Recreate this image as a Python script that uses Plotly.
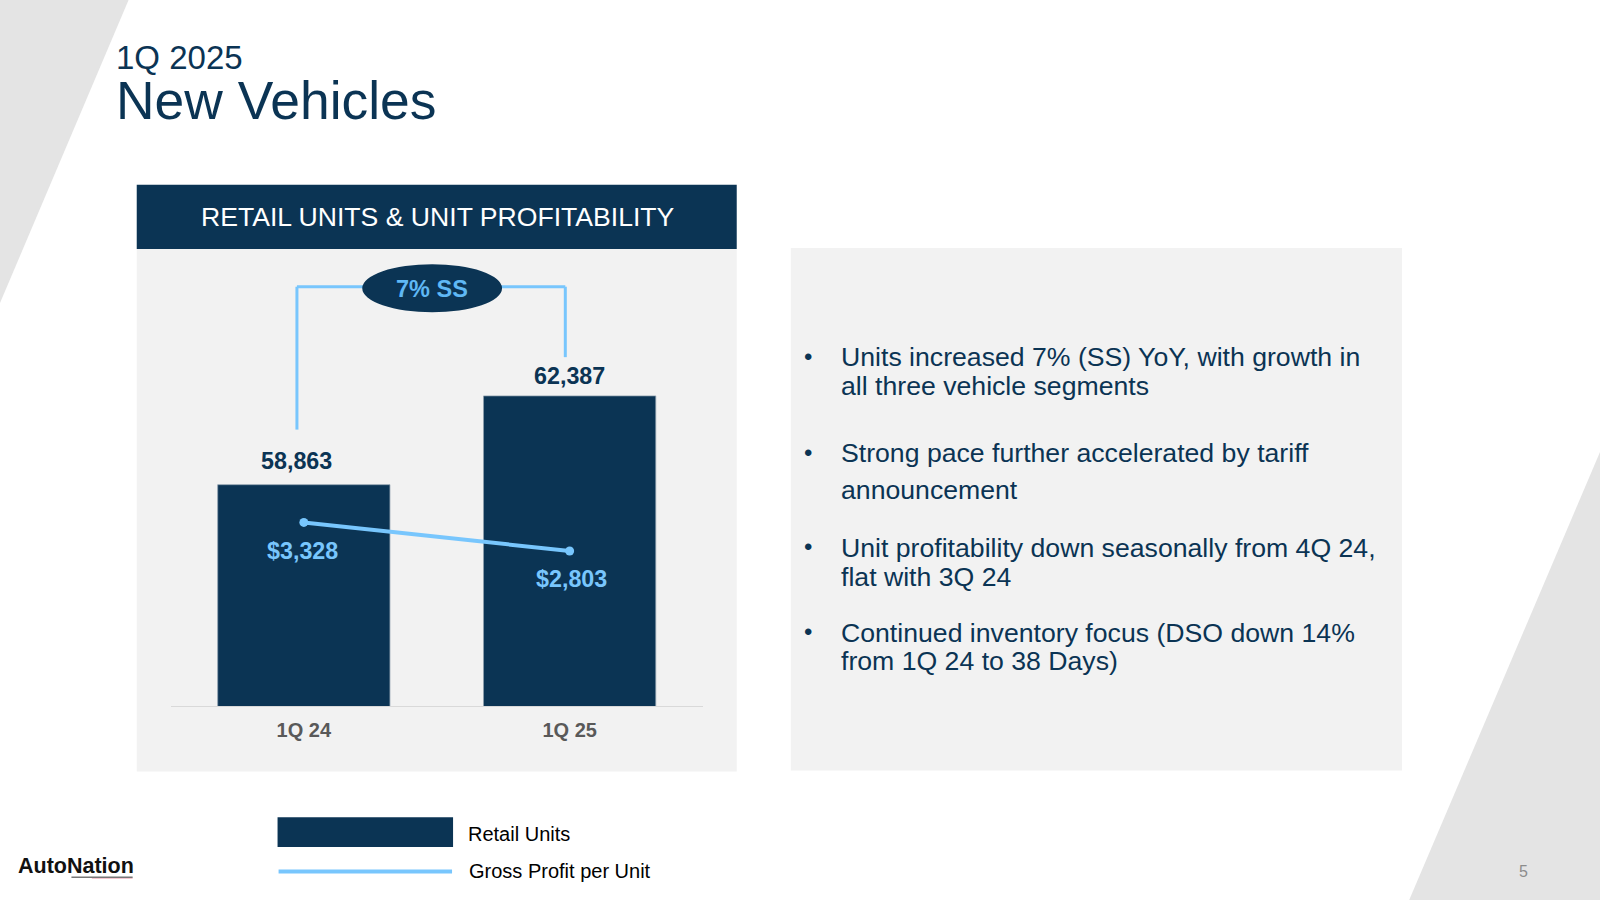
import plotly.graph_objects as go

# Data
quarters = ["1Q 24", "1Q 25"]
retail_units = [58863, 62387]
gross_profit = [3328, 2803]
bullets = [
    "Units increased 7% (SS) YoY, with growth in",
    "all three vehicle segments",
    "Strong pace further accelerated by tariff",
    "announcement",
    "Unit profitability down seasonally from 4Q 24,",
    "flat with 3Q 24",
    "Continued inventory focus (DSO down 14%",
    "from 1Q 24 to 38 Days)",
]
bullet_y = [350, 378, 444, 480, 537, 565, 620, 648]
bullet_starts = [0, 2, 4, 6]

NAVY = "#0b3454"
BLUE = "#78c6fd"
FONT = "Liberation Sans"


# Slide positions were measured on a 1568x882 view of the picture
def px(x):
    return x / 1568


def py(y):
    return 1 - y / 882


def box(x0, y0, x1, y1, color, kind="rect"):
    return dict(type=kind, xref="paper", yref="paper", x0=px(x0), x1=px(x1), y0=py(y0), y1=py(y1),
                fillcolor=color, line_width=0, layer="below")


def seg(x0, y0, x1, y1, width=3):
    return dict(type="line", xref="paper", yref="paper", x0=px(x0), x1=px(x1), y0=py(y0), y1=py(y1),
                line=dict(color=BLUE, width=width), layer="below")


def label(x, y, text, size, color=NAVY, bold=False, anchor="left"):
    return dict(xref="paper", yref="paper", x=px(x), y=py(y), text=text, showarrow=False,
                xanchor=anchor, yanchor="middle", borderpad=0, align=anchor,
                font=dict(family=FONT, size=size, color=color, weight=700 if bold else 400))


fig = go.Figure()

# Bars
fig.add_trace(go.Bar(
    x=quarters,
    y=retail_units,
    name="Retail Units",
    marker=dict(color=NAVY, line=dict(color="#8fa0af", width=0.75)),
    width=0.648,
))

# Line on its own axis
fig.add_trace(go.Scatter(
    x=quarters,
    y=gross_profit,
    name="Gross Profit per Unit",
    mode="lines+markers",
    line=dict(color=BLUE, width=4),
    marker=dict(color=BLUE, size=9),
    yaxis="y2",
))

shapes = [
    # Background wedges
    dict(type="path", xref="paper", yref="paper", layer="below", fillcolor="#e4e4e4", line_width=0,
         path=f"M 0 1 L {px(126)} 1 L 0 {py(297)} Z"),
    dict(type="path", xref="paper", yref="paper", layer="below", fillcolor="#e4e4e4", line_width=0,
         path=f"M {px(1381)} 0 L 1 {py(443)} L 1 0 Z"),
    # Panels
    box(134, 244, 722, 756, "#f2f2f2"),
    box(134, 181, 722, 244, NAVY),
    box(775, 243, 1374, 755, "#f2f2f2"),
    # Growth bracket
    seg(291, 281, 291, 421),
    seg(291, 281, 360, 281),
    seg(488, 281, 554, 281),
    seg(554, 281, 554, 350),
    box(355, 259, 492, 306, NAVY, "circle"),
    # Legend keys
    box(272, 801, 444, 830, NAVY),
    seg(273, 854, 443, 854, 4),
    # Logo underline
    box(70, 859, 130, 860.5, "#777777"),
    box(90, 860.5, 130, 861.5, "#f4c6d0"),
]

annotations = [
    # Both title lines in one block, the line gap follows the base font
    label(113, 82.5, '<span style="font-size:33px">1Q 2025</span><br>'
                     '<span style="font-size:53.4px">New Vehicles</span>', 38.2),
    label(429, 213, "RETAIL UNITS &amp; UNIT PROFITABILITY", 26.6, "#ffffff", anchor="center"),
    label(423, 283, "7% SS", 23.5, "#5fb8f5", True, "center"),
    label(457.5, 817, "Retail Units", 20, "#000000"),
    label(458.5, 854, "Gross Profit per Unit", 20, "#000000"),
    label(1493, 854, "5", 16, "#8c8c8c", anchor="center"),
    label(17, 848.5, "AutoNation", 21.5, "#111111", True),
]

for line, y in zip(bullets, bullet_y):
    annotations.append(label(823, y, line, 26.65))
for i in bullet_starts:
    annotations.append(label(787, bullet_y[i] - 1, "•", 24))

# Value labels hang off the data
unit_shift = [(-7.1, 23.5), (-0.5, 19.4)]
for q, v, (dx, dy) in zip(quarters, retail_units, unit_shift):
    annotations.append(dict(x=q, y=v, xref="x", yref="y", text=f"{v:,}", showarrow=False,
                            xshift=dx, yshift=dy, yanchor="middle", borderpad=0,
                            font=dict(family=FONT, size=23.3, color=NAVY, weight=700)))
profit_shift = [(-1.5, -28.5), (1.5, -27.5)]
for q, v, (dx, dy) in zip(quarters, gross_profit, profit_shift):
    annotations.append(dict(x=q, y=v, xref="x", yref="y2", text=f"${v:,}", showarrow=False,
                            xshift=dx, yshift=dy, yanchor="middle", borderpad=0,
                            font=dict(family=FONT, size=23.3, color=BLUE, weight=700)))

fig.update_layout(
    width=1600,
    height=900,
    margin=dict(l=0, r=0, t=0, b=0),
    paper_bgcolor="#ffffff",
    plot_bgcolor="rgba(0,0,0,0)",
    showlegend=False,
    xaxis=dict(domain=[px(167.5), px(688.5)], type="category", range=[-0.5, 1.5], showline=True,
               linecolor="#d9d9d9", linewidth=1, showgrid=False, zeroline=False, ticks="",
               ticklabelstandoff=6,
               tickfont=dict(family=FONT, size=20, color="#595959", weight=700)),
    yaxis=dict(domain=[py(692), py(250)], range=[50074, 67975], visible=False),
    yaxis2=dict(domain=[py(692), py(250)], range=[-47, 8240], overlaying="y", visible=False),
    shapes=shapes,
    annotations=annotations,
)

fig.write_html("out.html", config={"displayModeBar": False},
               post_script="document.body.style.margin='0';")
